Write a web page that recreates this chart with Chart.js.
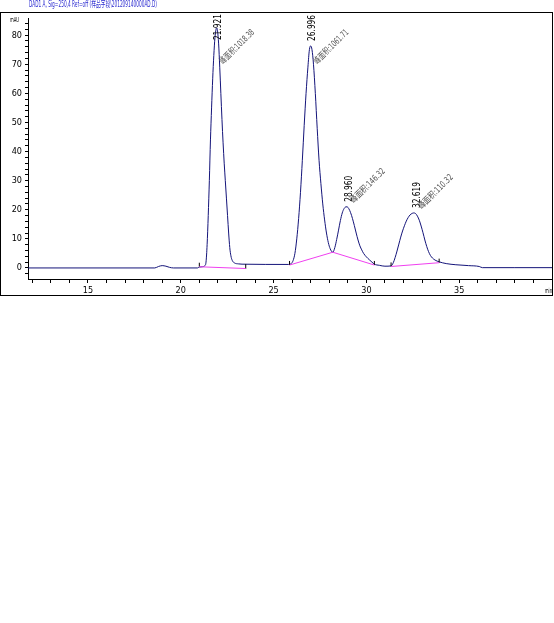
<!DOCTYPE html>
<html>
<head>
<meta charset="utf-8">
<script src="https://cdn.jsdelivr.net/npm/chart.js@4/dist/chart.umd.min.js"></script>
<style>
  html, body { margin: 0; padding: 0; background: #fff; }
</style>
</head>
<body>
<canvas id="chromChart" width="554" height="623"></canvas>
<script>
/* DAD1 A chromatogram */
const traceTime = [11.77, 18.6, 18.8, 19.0, 19.2, 19.4, 19.6, 20.9, 21.0, 21.15, 21.3, 21.36, 21.42, 21.48, 21.54, 21.6, 21.66, 21.72, 21.78, 21.84,
    21.9, 21.94, 21.98, 22.04, 22.1, 22.16, 22.22, 22.28, 22.34, 22.4, 22.46, 22.52, 22.58, 22.64, 22.7, 22.78, 22.9, 23.1, 23.3,
    25.8, 25.95, 26.05, 26.15, 26.25, 26.35, 26.45, 26.55, 26.65, 26.75, 26.85, 26.93, 27.0, 27.07, 27.15, 27.25, 27.35, 27.45,
    27.55, 27.65, 27.75, 27.85, 27.95, 28.05, 28.19, 28.3, 28.4, 28.5, 28.6, 28.7, 28.8, 28.9, 28.96, 29.05, 29.15, 29.25, 29.35,
    29.45, 29.55, 29.65, 29.75, 29.85, 30.0, 30.16, 30.3, 30.43, 30.7, 31.0, 31.33, 31.45, 31.55, 31.65, 31.75, 31.85, 31.95,
    32.05, 32.15, 32.25, 32.35, 32.45, 32.55, 32.65, 32.75, 32.85, 32.95, 33.05, 33.15, 33.25, 33.35, 33.45, 33.56, 33.7, 33.92,
    34.3, 34.82, 35.5, 36.08, 36.25, 38.0, 40.0];
const traceMAU = [0, 0, 0.5, 0.8, 0.6, 0.2, 0, 0, 0.3, 0.4, 0.8, 2, 8, 18, 30, 44, 55, 65, 73, 79,
    82, 82.5, 81.5, 77, 69, 60, 51, 43, 36, 30, 24, 18, 12, 7, 4.2, 2.5, 1.7, 1.4, 1.3,
    1.2, 1.5, 2.5, 5, 10, 17, 26, 37, 49, 60, 69, 75, 76.3, 75, 70, 60, 48, 37,
    29, 22, 16.5, 12, 8.7, 6.6, 5.4, 7, 9.8, 13, 16.3, 18.9, 20.4, 21, 21, 20.4, 19, 17, 14.6,
    12, 9.6, 7.6, 6.2, 5.0, 3.8, 2.8, 2.0, 1.3, 0.9, 0.6, 0.7, 1.8, 3.6, 5.8, 8.2, 10.6, 12.7,
    14.5, 16.1, 17.3, 18.2, 18.7, 18.9, 18.7, 17.8, 16.4, 14.4, 12.1, 9.6, 7.4, 5.6, 4.3, 3.4, 2.7, 2.1,
    1.5, 1.1, 0.8, 0.5, 0.1, 0.1, 0.1];

// integration baselines (null = gap between segments)
const baseTime = [21.0, 23.5, 23.5, 25.86, 28.19, 30.43, 30.43, 31.33, 33.92];
const baseMAU  = [0.4, -0.2, null, 1.0, 5.4, 1.0, null, 0.5, 1.8];

// start / stop tick marks
const markerTime = [21.0, 23.5, 25.86, 30.43, 31.33, 33.92];
const markerLow  = [0.4, -0.3, 1.0, 1.0, 0.5, 1.8];
const markerHigh = [1.8, 1.3, 2.4, 2.4, 1.9, 3.2];

const peakRT   = [21.921, 26.996, 28.960, 32.619];
const peakTop  = [82.5, 76.3, 21, 18.9];
const peakArea = ['1018.38', '1061.71', '146.32', '110.32'];

const titleText = 'DAD1 A, Sig=250,4 Ref=off (样品字段\\201209140000AD.D)';
const xRange = [11.77, 40];
const yRange = [-3.8, 85.9];

const narrowFont = '"Liberation Sans Narrow", "DejaVu Sans Condensed", "Noto Sans CJK SC", sans-serif';

function toPoints(xs, ys) {
    return xs.map((x, i) => ({ x, y: ys[i] }));
}

function markerPoints() {
    const pts = [];
    markerTime.forEach((t, i) => {
        pts.push({ x: t, y: markerLow[i] }, { x: t, y: markerHigh[i] }, { x: t, y: null });
    });
    return pts;
}

// draw text squeezed to a given width
function fitText(ctx, text, x, y, w) {
    const m = ctx.measureText(text).width;
    ctx.save();
    ctx.translate(x, y);
    ctx.scale(w / m, 1);
    ctx.fillText(text, 0, 0);
    ctx.restore();
}

const frame = {
    id: 'frame',
    beforeDraw(chart) {
        const ctx = chart.ctx;
        ctx.save();
        ctx.fillStyle = '#fff';
        ctx.fillRect(0, 0, chart.width, chart.height);
        ctx.restore();
    },
    afterDraw(chart) {
        const ctx = chart.ctx;
        ctx.save();
        ctx.strokeStyle = '#000';
        ctx.lineWidth = 1;
        ctx.strokeRect(0.5, 12.5, 552, 283);

        ctx.textBaseline = 'middle';
        ctx.fillStyle = '#2a2ad0';
        ctx.font = '9px ' + narrowFont;
        fitText(ctx, titleText, 29, 5, 128);

        ctx.fillStyle = '#000';
        ctx.font = '7px ' + narrowFont;
        fitText(ctx, 'mAU', 10, 20, 9);
        fitText(ctx, 'min', 545, 291, 7);
        ctx.restore();
    }
};

const peakLabels = {
    id: 'peakLabels',
    afterDatasetsDraw(chart) {
        const { ctx, scales: { x, y } } = chart;
        ctx.save();
        ctx.textBaseline = 'middle';
        peakRT.forEach((rt, i) => {
            const px = x.getPixelForValue(rt);
            const py = y.getPixelForValue(peakTop[i]);

            // retention time, rotated
            const w = 26;
            const bottom = Math.max(py - 5, 14 + w);
            ctx.save();
            ctx.translate(px + 2, bottom);
            ctx.rotate(-Math.PI / 2);
            ctx.fillStyle = '#000';
            ctx.font = '10px ' + narrowFont;
            fitText(ctx, rt.toFixed(3), 0, 0, w);
            ctx.restore();

            // area, diagonal
            const sy = Math.max(py - 5, 63);
            ctx.save();
            ctx.translate(px + 5, sy);
            ctx.rotate(-Math.PI / 4);
            ctx.fillStyle = '#555';
            ctx.font = '9px ' + narrowFont;
            fitText(ctx, '峰面积:' + peakArea[i], 0, 0, 45);
            ctx.restore();
        });
        ctx.restore();
    }
};

new Chart(document.getElementById('chromChart'), {
    type: 'line',
    data: {
        datasets: [
            {
                label: 'baseline',
                data: toPoints(baseTime, baseMAU),
                borderColor: '#f040f0',
                borderWidth: 1,
                pointRadius: 0,
                tension: 0,
                spanGaps: false
            },
            {
                label: 'markers',
                data: markerPoints(),
                borderColor: '#000',
                borderWidth: 1,
                pointRadius: 0,
                spanGaps: false
            },
            {
                label: 'DAD1 A',
                data: toPoints(traceTime, traceMAU),
                borderColor: '#14147a',
                borderWidth: 1,
                pointRadius: 0,
                cubicInterpolationMode: 'monotone'
            }
        ]
    },
    options: {
        responsive: false,
        animation: false,
        layout: { padding: { left: 0, top: 18, right: 2, bottom: 328 } },
        plugins: {
            legend: { display: false },
            tooltip: { enabled: false }
        },
        scales: {
            x: {
                type: 'linear',
                min: xRange[0],
                max: xRange[1],
                afterFit: s => { s.height = 16; },
                border: { display: true, color: '#000', width: 1 },
                grid: { drawOnChartArea: false, drawTicks: true, tickLength: 4, color: '#000' },
                ticks: {
                    stepSize: 1,
                    includeBounds: false,
                    autoSkip: false,
                    maxRotation: 0,
                    padding: 2,
                    color: '#000',
                    font: { family: narrowFont, size: 9 },
                    callback: v => (v % 5 === 0 && v < xRange[1] ? v : '')
                }
            },
            y: {
                min: yRange[0],
                max: yRange[1],
                afterFit: s => { s.width = 28; },
                border: { display: true, color: '#000', width: 1 },
                grid: { drawOnChartArea: false, drawTicks: true, tickLength: 3, color: '#000' },
                ticks: {
                    stepSize: 2,
                    includeBounds: false,
                    autoSkip: false,
                    padding: 3,
                    color: '#000',
                    font: { family: narrowFont, size: 9 },
                    callback: v => (v % 10 === 0 ? v : '')
                }
            }
        }
    },
    plugins: [frame, peakLabels]
});
</script>
</body>
</html>
